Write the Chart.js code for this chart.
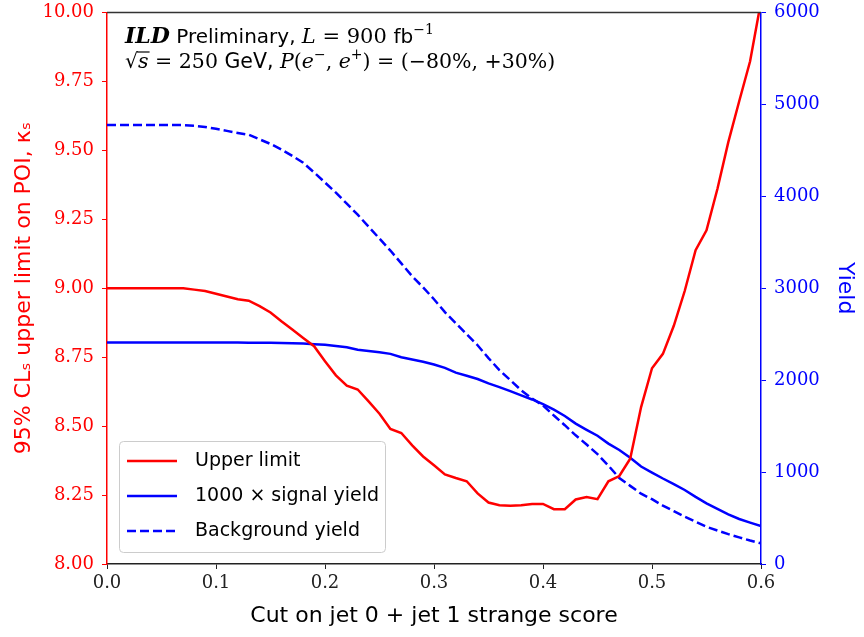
<!DOCTYPE html>
<html>
<head>
<meta charset="utf-8">
<script src="https://cdn.jsdelivr.net/npm/chart.js@4/dist/chart.umd.min.js"></script>
<style>
html,body{margin:0;padding:0;background:#fff;}
#wrap{width:864px;height:637px;}
</style>
</head>
<body>
<div id="wrap"><canvas id="c" width="864" height="637"></canvas></div>
<script>
// x: cut on jet0 + jet1 strange score
const cutValues = [0.00,0.01,0.02,0.03,0.04,0.05,0.06,0.07,0.08,0.09,
  0.10,0.11,0.12,0.13,0.14,0.15,0.16,0.17,0.18,0.19,
  0.20,0.21,0.22,0.23,0.24,0.25,0.26,0.27,0.28,0.29,
  0.30,0.31,0.32,0.33,0.34,0.35,0.36,0.37,0.38,0.39,
  0.40,0.41,0.42,0.43,0.44,0.45,0.46,0.47,0.48,0.49,
  0.50,0.51,0.52,0.53,0.54,0.55,0.56,0.57,0.58,0.59,0.60];
// 95% CLs upper limit on kappa_s
const upperLimit = [9.00,9.00,9.00,9.00,9.00,9.00,9.00,9.00,8.995,8.99,
  8.98,8.97,8.96,8.955,8.935,8.912,8.88,8.85,8.82,8.79,
  8.735,8.684,8.647,8.633,8.59,8.545,8.49,8.475,8.43,8.39,
  8.358,8.325,8.312,8.30,8.256,8.223,8.213,8.211,8.213,8.218,
  8.218,8.199,8.199,8.234,8.243,8.235,8.30,8.319,8.382,8.569,
  8.71,8.762,8.864,8.99,9.138,9.21,9.36,9.53,9.678,9.823,10.04];
// 1000 x signal yield
const signalYield = [2410,2410,2410,2410,2410,2410,2410,2410,2410,2410,
  2410,2410,2409,2408,2407,2406,2405,2402,2398,2392,
  2385,2372,2358,2330,2318,2303,2286,2249,2225,2200,
  2170,2134,2082,2048,2013,1965,1925,1880,1835,1790,
  1740,1680,1610,1527,1460,1395,1310,1240,1155,1060,
  995,930,870,805,730,660,600,540,490,450,412];
// background yield
const backgroundYield = [4775,4775,4775,4775,4775,4775,4775,4775,4768,4755,
  4735,4712,4690,4670,4620,4570,4510,4440,4365,4260,
  4150,4040,3920,3800,3670,3540,3410,3270,3130,3010,
  2880,2740,2620,2500,2380,2240,2110,2000,1890,1800,
  1725,1615,1510,1400,1300,1195,1070,935,850,765,
  705,635,575,515,460,405,365,325,290,255,225];
const xTicks = [0.0,0.1,0.2,0.3,0.4,0.5,0.6];
const leftTicks = [8.00,8.25,8.50,8.75,9.00,9.25,9.50,9.75,10.00];
const rightTicks = [0,1000,2000,3000,4000,5000,6000];
const seriesLabels = ['Upper limit','1000 \u00d7 signal yield','Background yield'];

const SANS = '"DejaVu Sans", sans-serif';
const SERIF = '"DejaVu Serif", serif';

const pts = arr => arr.map((v,i)=>({x:cutValues[i], y:v}));

const framePlugin = {
  id:'frame',
  afterDatasetsDraw(chart){
    const {ctx, chartArea:a} = chart;
    ctx.save();
    ctx.lineWidth = 1.5;
    ctx.strokeStyle = '#333';
    ctx.beginPath(); ctx.moveTo(a.left, a.top); ctx.lineTo(a.right, a.top); ctx.stroke();
    ctx.restore();
  }
};

function drawRich(ctx, x, y, segs){
  let cx = x;
  for(const s of segs){
    ctx.font = s.f;
    const w = ctx.measureText(s.t).width;
    ctx.fillText(s.t, cx, y + (s.dy||0));
    if(s.over){
      ctx.save(); ctx.lineWidth=1.2; ctx.strokeStyle='#000';
      ctx.beginPath(); ctx.moveTo(cx-1, y-16); ctx.lineTo(cx+w+1, y-16); ctx.stroke(); ctx.restore();
    }
    cx += w + (s.sp||0);
  }
}

const textPlugin = {
  id:'annot',
  afterDraw(chart){
    const {ctx, chartArea:a} = chart;
    ctx.save();
    ctx.fillStyle = '#000';
    ctx.textBaseline = 'alphabetic';
    ctx.textAlign = 'left';
    const x0 = a.left + 18;
    drawRich(ctx, x0, 43, [
      {t:'ILD', f:'italic bold 22px '+SERIF},
      {t:' Preliminary, ', f:'20px '+SANS},
      {t:'L', f:'italic 21px '+SERIF},
      {t:' = 900 ', f:'21px '+SERIF},
      {t:'fb', f:'20px '+SANS},
      {t:'\u22121', f:'14px '+SERIF, dy:-9}
    ]);
    drawRich(ctx, x0, 68, [
      {t:'\u221a', f:'20.5px '+SERIF},
      {t:'s', f:'italic 20.5px '+SERIF, over:true},
      {t:' = 250 ', f:'20.5px '+SERIF},
      {t:'GeV, ', f:'20.5px '+SANS},
      {t:'P', f:'italic 20.5px '+SERIF},
      {t:'(', f:'20.5px '+SERIF},
      {t:'e', f:'italic 20.5px '+SERIF},
      {t:'\u2212', f:'14px '+SERIF, dy:-9},
      {t:', ', f:'20.5px '+SERIF},
      {t:'e', f:'italic 20.5px '+SERIF},
      {t:'+', f:'14px '+SERIF, dy:-9},
      {t:') = (\u221280%, +30%)', f:'20.5px '+SERIF}
    ]);
    // legend
    const bx = a.left + 12, by = 441, bw = 266, bh = 111;
    ctx.fillStyle = 'rgba(255,255,255,0.85)';
    ctx.strokeStyle = '#cccccc';
    ctx.lineWidth = 1;
    ctx.beginPath();
    ctx.roundRect(bx+0.5, by+0.5, bw, bh, 4);
    ctx.fill(); ctx.stroke();
    chart.data.datasets.forEach((ds,i)=>{
      const yy = by + 20 + i*35;
      ctx.save();
      ctx.strokeStyle = ds.borderColor;
      ctx.lineWidth = ds.borderWidth;
      ctx.setLineDash(ds.borderDash || []);
      ctx.beginPath(); ctx.moveTo(bx+8, yy); ctx.lineTo(bx+58, yy); ctx.stroke();
      ctx.restore();
      ctx.fillStyle = '#000';
      ctx.font = '19px '+SANS;
      ctx.textBaseline = 'middle';
      ctx.fillText(ds.label, bx+76, yy);
    });
    ctx.restore();
  }
};

new Chart(document.getElementById('c'), {
  type:'line',
  data:{
    datasets:[
      {label:seriesLabels[0], data:pts(upperLimit), yAxisID:'yL', borderColor:'#ff0000', borderWidth:2.5, pointRadius:0, tension:0, clip:0},
      {label:seriesLabels[1], data:pts(signalYield), yAxisID:'yR', borderColor:'#0000ff', borderWidth:2.5, pointRadius:0, tension:0, clip:0},
      {label:seriesLabels[2], data:pts(backgroundYield), yAxisID:'yR', borderColor:'#0000ff', borderWidth:2.5, borderDash:[9,4], pointRadius:0, tension:0, clip:0}
    ]
  },
  options:{
    responsive:false,
    animation:false,
    devicePixelRatio:1,
    layout:{padding:{top:11,left:0,right:0,bottom:0}},
    plugins:{legend:{display:false}, tooltip:{enabled:false}},
    scales:{
      x:{
        type:'linear', min:0, max:0.6,
        afterBuildTicks(s){ s.ticks = xTicks.map(v=>({value:v})); },
        afterFit(s){ s.height = 73; },
        ticks:{callback:v=>v.toFixed(1), color:'#222', font:{family:SERIF, size:18}, padding:4, maxRotation:0},
        grid:{drawOnChartArea:false, drawTicks:true, tickLength:5, tickColor:'#222'},
        border:{color:'#222', width:1.5},
        title:{display:true, text:'Cut on jet 0 + jet 1 strange score', color:'#000', font:{family:SANS, size:22}, padding:{top:4,bottom:8}}
      },
      yL:{
        type:'linear', position:'left', min:8, max:10,
        afterBuildTicks(s){ s.ticks = leftTicks.map(v=>({value:v})); },
        afterFit(s){ s.width = 107; },
        ticks:{callback:v=>v.toFixed(2), color:'#ff0000', font:{family:SERIF, size:18, lineHeight:0.5}, padding:8},
        grid:{drawOnChartArea:false, drawTicks:true, tickLength:5, tickColor:'#ff0000'},
        border:{color:'#ff0000', width:1.5},
        title:{display:true, text:'95% CL\u209b upper limit on POI, \u03ba\u209b', color:'#ff0000', font:{family:SANS, size:22}, padding:{top:11,bottom:4}}
      },
      yR:{
        type:'linear', position:'right', min:0, max:6000,
        afterBuildTicks(s){ s.ticks = rightTicks.map(v=>({value:v})); },
        afterFit(s){ s.width = 103; },
        ticks:{callback:v=>String(v), color:'#0000ff', font:{family:SERIF, size:18, lineHeight:0.5}, padding:8},
        grid:{drawOnChartArea:false, drawTicks:true, tickLength:5, tickColor:'#0000ff'},
        border:{color:'#0000ff', width:1.5},
        title:{display:true, text:'Yield', color:'#0000ff', font:{family:SANS, size:22}, padding:{top:6,bottom:4}}
      }
    }
  },
  plugins:[framePlugin, textPlugin]
});
</script>
</body>
</html>
